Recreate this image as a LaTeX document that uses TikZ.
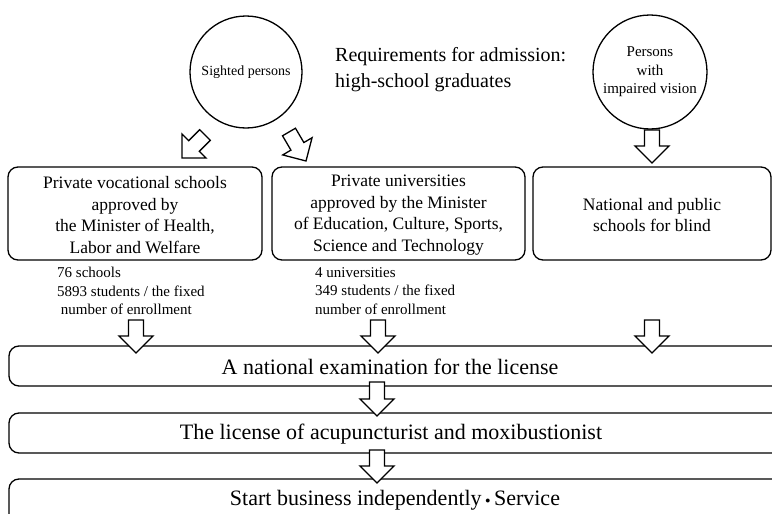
\documentclass[tikz,border=0pt]{standalone}
\usepackage{fontspec}
\setmainfont{Liberation Serif}
\usetikzlibrary{calc}

\tikzset{
  outline/.style={line width=1.3pt, draw=black},
  roundbox/.style={outline, rounded corners=10pt},
  person/.style={outline, circle, inner sep=0pt},
  boxtext/.style={align=center, font=\fontsize{17.5}{21.7}\selectfont, inner sep=0pt},
  smalltext/.style={align=left, font=\fontsize{15}{18.5}\selectfont, inner sep=0pt, anchor=north west},
  bigtext/.style={font=\fontsize{22}{24}\selectfont, inner sep=0pt},
  fatarrow/.style={line width=1.3pt, draw=black, fill=white, line join=miter},
}

% hollow block arrow from a tail point #1 to a tip point #2
\newcommand\fatarrow[2]{%
  \draw[fatarrow]
    ($(#1)!7.5pt!90:(#2)$) --
    ($($(#2)!17pt!(#1)$)!7.5pt!-90:(#1)$) --
    ($($(#2)!17pt!(#1)$)!17pt!-90:(#1)$) --
    (#2) --
    ($($(#2)!17pt!(#1)$)!17pt!90:(#1)$) --
    ($($(#2)!17pt!(#1)$)!7.5pt!90:(#1)$) --
    ($(#1)!7.5pt!-90:(#2)$) -- cycle;%
}

\begin{document}
\begin{tikzpicture}[x=1pt, y=-1pt]
  \useasboundingbox (0,0) rectangle (772,514);
  \clip (0,0) rectangle (772,514);

  % people
  \node[person, minimum size=112pt] (sighted) at (246,72)
    {\fontsize{14}{17}\selectfont Sighted persons};
  \node[person, minimum size=114pt, align=center,
        font=\fontsize{15}{18.5}\selectfont] (impaired) at (650,72)
    {Persons\\with\\impaired vision};

  \node[anchor=west, align=left, inner sep=0pt,
        font=\fontsize{20}{26}\selectfont] (req) at (335,70)
    {Requirements for admission:\\high-school graduates};

  % schools
  \draw[roundbox] (8,167) rectangle (262,260);
  \node[boxtext] (voc) at (135,215)
    {Private vocational schools\\approved by\\the Minister of Health,\\Labor and Welfare};
  \draw[roundbox] (272,167) rectangle (525,260);
  \node[boxtext] (univ) at (398.5,215)
    {Private universities\\approved by the Minister\\of Education, Culture, Sports,\\Science and Technology};
  \draw[roundbox] (533,167) rectangle (771,260);
  \node[boxtext] (blind) at (652,215)
    {National and public\\schools for blind};

  % enrollment figures
  \node[smalltext] (vocnum) at (57,267)
    {76 schools\\5893 students / the fixed\\\ number of enrollment};
  \node[smalltext] (univnum) at (315,267)
    {4 universities\\349 students / the fixed\\number of enrollment};

  % licensing steps
  \draw[roundbox] (9,346) rectangle (800,386);
  \node[bigtext] (exam) at (390,367) {A national examination for the license};
  \draw[roundbox] (9,413) rectangle (800,453);
  \node[bigtext] (license) at (391,434) {The license of acupuncturist and moxibustionist};
  \draw[roundbox] (9,479) rectangle (800,525);
  \node[bigtext] (start) at (395,500) {Start business independently\,{\fontsize{10}{10}\selectfont\raisebox{0.4ex}{$\bullet$}}\,Service};

  % arrow ends
  \coordinate (sl0) at (205,135);  \coordinate (sl1) at (182,158);
  \coordinate (sr0) at (289,132);  \coordinate (sr1) at (306,161);
  \coordinate (ir0) at (652,130);  \coordinate (ir1) at (652,163);
  \coordinate (e10) at (136,320);  \coordinate (e11) at (136,353);
  \coordinate (e20) at (378,320);  \coordinate (e21) at (378,353);
  \coordinate (e30) at (652,320);  \coordinate (e31) at (652,353);
  \coordinate (l0)  at (377,382);  \coordinate (l1)  at (377,416);
  \coordinate (s0)  at (377,450);  \coordinate (s1)  at (377,483);

  \fatarrow{sl0}{sl1}
  \fatarrow{sr0}{sr1}
  \fatarrow{ir0}{ir1}
  \fatarrow{e10}{e11}
  \fatarrow{e20}{e21}
  \fatarrow{e30}{e31}
  \fatarrow{l0}{l1}
  \fatarrow{s0}{s1}
\end{tikzpicture}
\end{document}
